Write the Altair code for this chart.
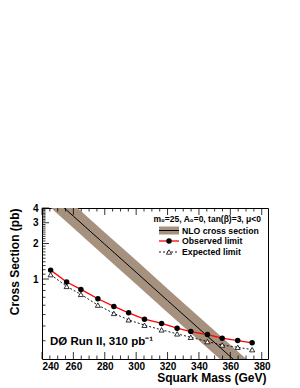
import altair as alt
import pandas as pd

# ---- data ----
obs_mass = [245.5, 255.7, 264.8, 275.6, 285.8, 295.2, 305.3, 316.2, 326.1, 334.8, 345.4, 354.8, 364.7, 373.9]
obs_limit = [1.19, 0.943, 0.817, 0.680, 0.586, 0.517, 0.457, 0.420, 0.383, 0.359, 0.338, 0.315, 0.301, 0.288]
exp_limit = [1.09, 0.866, 0.741, 0.601, 0.511, 0.451, 0.406, 0.371, 0.343, 0.321, 0.295, 0.276, 0.264, 0.252]

nlo_mass = [240, 260, 280, 300, 320, 340, 360, 380]
nlo_xsec = [5.89, 3.41, 1.97, 1.14, 0.657, 0.380, 0.220, 0.127]
nlo_low = [4.68, 2.71, 1.56, 0.905, 0.521, 0.302, 0.175, 0.101]
nlo_high = [7.42, 4.30, 2.48, 1.44, 0.828, 0.479, 0.277, 0.160]

x_major = [240, 260, 280, 300, 320, 340, 360, 380]
x_minor = [245, 250, 255, 265, 270, 275, 285, 290, 295, 305, 310, 315, 325, 330, 335,
           345, 350, 355, 365, 370, 375]
y_major = [1, 2, 3, 4]
y_minor = [0.3, 0.4, 0.5, 0.6, 0.7, 0.8, 0.9,
           1.1, 1.2, 1.3, 1.4, 1.5, 1.6, 1.7, 1.8, 1.9,
           2.1, 2.2, 2.3, 2.4, 2.5, 2.6, 2.7, 2.8, 2.9,
           3.1, 3.2, 3.3, 3.4, 3.5, 3.6, 3.7, 3.8, 3.9]

legend_header = "m\u2080=25, A\u2080=0, tan(\u03b2)=3, \u03bc<0"
legend_labels = ["NLO cross section", "Observed limit", "Expected limit"]
exp_label = "D\u00d8 Run II, 310 pb\u207b\u00b9"

W, H = 226, 151
FONT = "Liberation Sans"
BAND = "#a6917f"

xs = alt.Scale(domain=[240, 384], nice=False, zero=False)
ys = alt.Scale(type="log", domain=[0.21, 4], nice=False)

nlo = pd.DataFrame({"m": nlo_mass, "s": nlo_xsec, "lo": nlo_low, "hi": nlo_high})
lim = pd.DataFrame({"m": obs_mass, "obs": obs_limit, "exp": exp_limit})

x_axis = alt.Axis(values=x_major, format="d", ticks=False, domain=False, grid=False,
                  labelFont=FONT, labelFontSize=10, labelFontWeight="bold", labelColor="black",
                  labelPadding=2, title="Squark Mass (GeV)", titleFont=FONT, titleFontSize=12,
                  titleFontWeight="bold", titleColor="black", titleAnchor="end", titleAlign="right",
                  titleBaseline="alphabetic", titleX=W - 2, titleY=22.5)
y_axis = alt.Axis(values=y_major, format="d", ticks=False, domain=False, grid=False,
                  labelFont=FONT, labelFontSize=10, labelFontWeight="bold", labelColor="black",
                  labelPadding=4, title="Cross Section (pb)", titleFont=FONT, titleFontSize=12,
                  titleFontWeight="bold", titleColor="black", titleAngle=270, titleAlign="right",
                  titleBaseline="alphabetic", titleX=-24, titleY=0)


def X(field):
    return alt.X(field, scale=xs, axis=x_axis)


def Y(field):
    return alt.Y(field, scale=ys, axis=y_axis)


band = alt.Chart(nlo).mark_area(color=BAND, clip=True).encode(
    x=X("m:Q"), y=Y("lo:Q"), y2="hi:Q",
)
nlo_line = alt.Chart(nlo).mark_line(color="black", strokeWidth=1, clip=True).encode(
    x=X("m:Q"), y=Y("s:Q"),
)
exp_line = alt.Chart(lim).mark_line(color="black", strokeWidth=0.9, strokeDash=[2, 2]).encode(
    x=X("m:Q"), y=Y("exp:Q"),
)
exp_pts = alt.Chart(lim).mark_point(shape="triangle-up", filled=True, fill="white", stroke="black",
                                    strokeWidth=0.8, size=26, opacity=1).encode(
    x=X("m:Q"), y=Y("exp:Q"),
)
obs_line = alt.Chart(lim).mark_line(color="#ff0000", strokeWidth=1.3).encode(
    x=X("m:Q"), y=Y("obs:Q"),
)
obs_pts = alt.Chart(lim).mark_point(shape="circle", filled=True, color="black", size=30, opacity=1).encode(
    x=X("m:Q"), y=Y("obs:Q"),
)


def tick_rules(values, axis, length, side):
    df = pd.DataFrame({"v": values})
    c = alt.Chart(df).mark_rule(color="black", strokeWidth=0.8)
    if axis == "y":
        return c.encode(y=Y("v:Q"), x=alt.value(0), x2=alt.value(length))
    if side == "bottom":
        return c.encode(x=X("v:Q"), y=alt.value(H), y2=alt.value(H - length))
    return c.encode(x=X("v:Q"), y=alt.value(0), y2=alt.value(length))


ticks = [
    tick_rules(y_major, "y", 7, "left"),
    tick_rules(y_minor, "y", 3.5, "left"),
    tick_rules(x_major, "x", 7, "bottom"),
    tick_rules(x_minor, "x", 3.5, "bottom"),
    tick_rules(x_major, "x", 7, "top"),
    tick_rules(x_minor, "x", 3.5, "top"),
]

one = pd.DataFrame({"k": [0]})


def label(text, x, y, size, align="left"):
    return alt.Chart(pd.DataFrame({"t": [text]})).mark_text(
        align=align, baseline="middle", font=FONT, fontSize=size, fontWeight="bold", color="black"
    ).encode(text="t:N", x=alt.value(x), y=alt.value(y))


LX0, LX1, LXC, LT = 117, 137, 127, 140
legend = [
    label(legend_header, 219, 11, 8.5, align="right"),
    alt.Chart(one).mark_rect(color=BAND).encode(
        x=alt.value(LX0), x2=alt.value(LX1), y=alt.value(18.5), y2=alt.value(26.5)),
    alt.Chart(one).mark_rule(color="black", strokeWidth=1).encode(
        x=alt.value(LX0), x2=alt.value(LX1), y=alt.value(22.5)),
    label(legend_labels[0], LT, 22.5, 8.7),
    alt.Chart(one).mark_rule(color="#ff0000", strokeWidth=1.3).encode(
        x=alt.value(LX0), x2=alt.value(LX1), y=alt.value(33)),
    alt.Chart(one).mark_point(shape="circle", filled=True, color="black", size=30, opacity=1).encode(
        x=alt.value(LXC), y=alt.value(33)),
    label(legend_labels[1], LT, 33, 8.7),
    alt.Chart(one).mark_rule(color="black", strokeWidth=0.9, strokeDash=[2, 2]).encode(
        x=alt.value(LX0), x2=alt.value(LX1), y=alt.value(44)),
    alt.Chart(one).mark_point(shape="triangle-up", filled=True, fill="white", stroke="black",
                              strokeWidth=0.8, size=26, opacity=1).encode(
        x=alt.value(LXC), y=alt.value(44)),
    label(legend_labels[2], LT, 44, 8.7),
]

exp_text = label(exp_label, 8, 134, 11.5)

chart = alt.layer(
    band, nlo_line, exp_line, exp_pts, obs_line, obs_pts, exp_text, *legend, *ticks
).properties(
    width=W, height=H,
    autosize=alt.AutoSizeParams(type="none"),
    padding={"left": 34, "top": 200, "right": 300 - 16 - 34 - W, "bottom": 27},
    background="white",
).configure_view(
    stroke="black", strokeWidth=1
)

chart.save("out.html", embed_options={"renderer": "svg", "actions": False})
